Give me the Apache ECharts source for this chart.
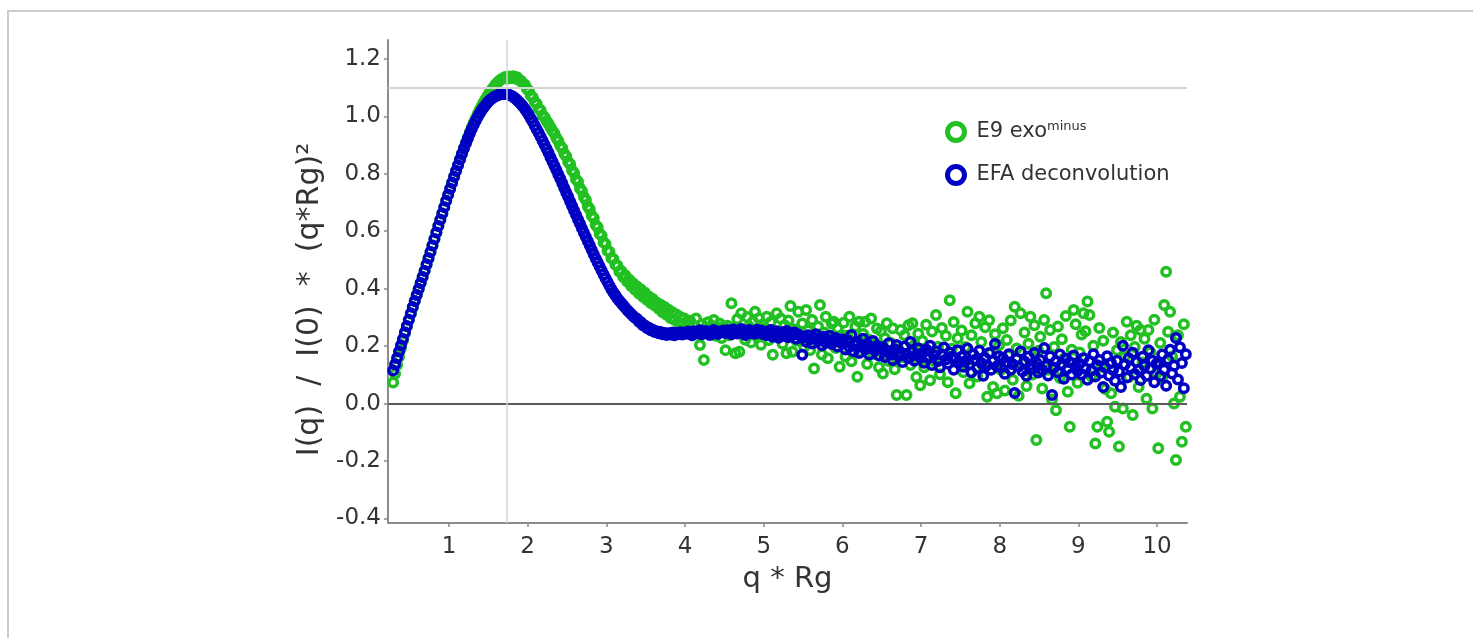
<!DOCTYPE html>
<html><head><meta charset="utf-8">
<script src="https://cdn.jsdelivr.net/npm/echarts@6/dist/echarts.min.js"></script>
<style>html,body{margin:0;padding:0;background:#fff}#chart{width:1473px;height:638px}</style>
</head><body><div id="chart"></div>
<script>
// q*Rg sampling grid (uniform in q)
const qRgStart = 0.29;
const qRgStep = 0.025;

// EFA deconvolution: I(q)/I(0)*(q*Rg)^2
const efaValues = [
0.115,0.137,0.159,0.181,0.203,0.225,0.248,0.270,0.292,0.314,
0.336,0.357,0.378,0.399,0.420,0.441,0.462,0.484,0.506,0.528,
0.550,0.573,0.596,0.618,0.640,0.662,0.684,0.706,0.727,0.748,
0.769,0.790,0.810,0.830,0.850,0.869,0.888,0.906,0.923,0.940,
0.956,0.971,0.985,0.998,1.010,1.021,1.031,1.040,1.048,1.055,
1.061,1.066,1.070,1.073,1.076,1.077,1.078,1.078,1.077,1.075,
1.072,1.068,1.063,1.057,1.050,1.043,1.035,1.026,1.016,1.005,
0.993,0.981,0.968,0.955,0.942,0.929,0.915,0.901,0.887,0.873,
0.858,0.843,0.828,0.813,0.798,0.783,0.767,0.751,0.735,0.720,
0.704,0.688,0.672,0.657,0.641,0.626,0.610,0.595,0.580,0.565,
0.550,0.535,0.520,0.505,0.491,0.477,0.463,0.449,0.436,0.423,
0.410,0.398,0.387,0.377,0.367,0.358,0.350,0.342,0.334,0.326,
0.319,0.312,0.305,0.299,0.295,0.285,0.283,0.273,0.272,0.263,
0.264,0.255,0.257,0.249,0.252,0.245,0.249,0.241,0.246,0.239,
0.245,0.240,0.247,0.238,0.246,0.241,0.248,0.240,0.247,
0.243,0.251,0.246,0.238,0.252,0.249,0.244,0.255,0.241,0.248,0.253,0.245,0.239,0.250,0.256,0.247,0.242,0.251,0.248,0.254,
0.246,0.255,0.249,0.241,0.258,0.252,0.244,0.250,0.260,0.247,0.239,0.253,0.256,0.245,0.251,0.243,0.257,0.248,0.254,0.242,
0.250,0.238,0.247,0.256,0.233,0.244,0.252,0.229,0.241,0.248,0.236,0.253,0.231,0.243,0.239,0.247,0.226,0.240,0.235,0.170,
0.232,0.215,0.238,0.224,0.209,0.229,0.241,0.218,0.226,0.203,0.233,0.212,0.222,0.236,0.207,0.219,0.228,0.199,0.214,0.224,
0.209,0.188,0.221,0.197,0.239,0.182,0.204,0.215,0.176,0.198,0.226,0.189,0.207,0.171,0.194,0.218,0.185,0.200,0.167,0.192,
0.196,0.162,0.183,0.210,0.171,0.152,0.189,0.204,0.165,0.178,0.145,0.199,0.173,0.158,0.214,0.181,0.149,0.168,0.192,0.160,
0.175,0.142,0.188,0.159,0.201,0.134,0.167,0.182,0.148,0.126,0.171,0.195,0.153,0.139,0.178,0.162,0.118,0.157,0.186,0.144,
0.163,0.128,0.148,0.192,0.136,0.109,0.171,0.152,0.124,0.184,0.141,0.097,0.158,0.133,0.176,0.118,0.149,0.207,0.130,0.165,
0.126,0.158,0.104,0.143,0.172,0.118,0.137,0.037,0.155,0.129,0.181,0.112,0.146,0.097,0.163,0.134,0.121,0.176,0.142,0.108,
0.152,0.117,0.193,0.131,0.098,0.164,0.030,0.125,0.147,0.109,0.171,0.138,0.086,0.156,0.122,0.144,0.101,0.167,0.129,0.113,
0.139,0.102,0.158,0.121,0.083,0.147,0.115,0.172,0.094,0.133,0.152,0.108,0.058,0.126,0.165,0.098,0.141,0.117,0.079,0.149,
0.112,0.058,0.201,0.136,0.091,0.158,0.124,0.177,0.103,0.145,0.118,0.082,0.163,0.131,0.097,0.186,0.122,0.149,0.074,0.138,
0.144,0.096,0.171,0.118,0.062,0.153,0.187,0.105,0.132,0.228,0.084,0.196,0.141,0.053,0.172
];

// E9 exo-minus measured curve
const e9Values = [
0.073,0.104,0.134,0.163,0.192,0.219,0.245,0.268,0.291,0.313,
0.335,0.357,0.378,0.399,0.420,0.441,0.462,0.484,0.506,0.528,
0.550,0.573,0.596,0.618,0.640,0.662,0.684,0.706,0.727,0.748,
0.769,0.790,0.811,0.831,0.851,0.871,0.890,0.909,0.927,0.945,
0.962,0.978,0.993,1.008,1.022,1.035,1.048,1.060,1.071,1.082,
1.092,1.101,1.110,1.117,1.124,1.129,1.133,1.137,1.131,1.139,
1.134,1.140,1.132,1.136,1.127,1.124,1.114,1.110,1.096,1.089,
1.073,1.066,1.050,1.044,1.027,1.021,1.004,0.997,0.984,0.974,
0.962,0.950,0.940,0.925,0.914,0.898,0.889,0.871,0.861,0.842,
0.833,0.812,0.803,0.781,0.772,0.750,0.740,0.719,0.709,0.686,
0.677,0.654,0.646,0.622,0.614,0.591,0.584,0.561,0.556,0.532,
0.529,0.506,0.503,0.483,0.481,0.460,0.462,0.441,0.447,0.425,
0.432,0.409,0.419,0.396,0.408,0.383,0.397,0.372,0.386,0.361,
0.373,0.350,0.364,0.341,0.352,0.330,0.344,0.318,0.336,0.309,
0.327,0.298,0.318,0.292,0.310,0.283,0.301,0.277,0.296,
0.279,0.262,0.288,0.254,0.271,0.296,0.249,0.204,0.276,0.152,0.265,0.283,0.243,0.270,0.291,0.236,0.262,0.279,0.228,0.268,
0.186,0.271,0.238,0.349,0.262,0.175,0.294,0.180,0.314,0.247,0.222,0.301,0.268,0.213,0.285,0.320,0.240,0.297,0.205,0.276,
0.262,0.302,0.221,0.284,0.170,0.251,0.314,0.233,0.296,0.208,0.273,0.175,0.289,0.340,0.180,0.258,0.219,0.320,0.244,0.279,
0.197,0.326,0.254,0.186,0.291,0.122,0.233,0.268,0.343,0.171,0.247,0.302,0.158,0.226,0.279,0.285,0.193,0.262,0.128,0.238,
0.281,0.164,0.236,0.302,0.147,0.213,0.268,0.093,0.285,0.181,0.242,0.285,0.138,0.222,0.296,0.172,0.207,0.261,0.126,0.253,
0.105,0.227,0.280,0.148,0.211,0.262,0.119,0.030,0.189,0.256,0.161,0.238,0.030,0.273,0.134,0.280,0.204,0.092,0.243,0.064,
0.219,0.126,0.274,0.183,0.081,0.251,0.147,0.308,0.198,0.102,0.263,0.169,0.236,0.074,0.360,0.191,0.284,0.036,0.227,0.138,
0.254,0.109,0.197,0.320,0.071,0.238,0.152,0.280,0.094,0.302,0.214,0.127,0.266,0.024,0.290,0.176,0.058,0.241,0.036,0.203,
0.118,0.262,0.045,0.221,0.167,0.289,0.083,0.337,0.192,0.027,0.314,0.139,0.247,0.061,0.208,0.302,0.101,0.273,-0.127,0.184,
0.233,0.052,0.291,0.384,0.118,0.256,0.014,0.197,-0.023,0.268,0.089,0.224,0.156,0.305,0.041,-0.081,0.187,0.326,0.276,0.072,
0.178,0.240,0.314,0.252,0.355,0.308,0.094,0.201,-0.139,-0.081,0.263,0.128,0.219,0.051,-0.063,-0.098,0.036,0.247,-0.011,0.186,
-0.150,0.214,-0.017,0.163,0.285,0.092,0.238,-0.040,0.197,0.271,0.058,0.256,0.143,0.226,0.017,0.256,0.179,-0.017,0.292,0.105,
-0.156,0.211,0.087,0.343,0.459,0.250,0.320,0.164,0.000,-0.197,0.238,0.024,-0.133,0.276,-0.081
];

const seriesNames = ['E9 exominus', 'EFA deconvolution'];
const seriesColors = ['#22c022', '#0000c2'];
// Guinier reference point (sqrt(3), 3/e)
const guinierX = 1.732;
const guinierY = 1.104;
const xRange = [0.225, 10.38];
const yRange = [-0.416, 1.266];

const toPoints = vals => vals.map((v, i) => [+(qRgStart + i * qRgStep).toFixed(3), v]);

const FONT = 'DejaVu Sans';
const chart = echarts.init(document.getElementById('chart'), null, {renderer: 'canvas'});
const ringStyle = c => ({color: 'rgba(0,0,0,0)', borderColor: c, borderWidth: 3.5, opacity: 1});

chart.setOption({
  animation: false,
  backgroundColor: '#ffffff',
  graphic: [{
    type: 'rect', silent: true, z: -10,
    shape: {x: 8, y: 11, width: 1500, height: 700},
    style: {fill: 'none', stroke: '#cccccc', lineWidth: 2}
  }],
  grid: {left: 388, right: 286, top: 40, bottom: 115, containLabel: false},
  legend: {
    orient: 'vertical', left: 940, top: 115,
    itemWidth: 17, itemHeight: 17, itemGap: 21,
    data: [
      {name: seriesNames[0], icon: 'circle', itemStyle: {color: 'rgba(0,0,0,0)', borderColor: seriesColors[0], borderWidth: 5}},
      {name: seriesNames[1], icon: 'circle', itemStyle: {color: 'rgba(0,0,0,0)', borderColor: seriesColors[1], borderWidth: 5}}
    ],
    formatter: n => n === seriesNames[0] ? '{t|E9 exo}{s|minus}' : '{t|EFA deconvolution}',
    textStyle: {
      padding: [0, 0, 0, 7],
      rich: {
        t: {fontFamily: FONT, fontSize: 21, color: '#333', lineHeight: 24},
        s: {fontFamily: FONT, fontSize: 13, color: '#333', verticalAlign: 'top', lineHeight: 13}
      }
    }
  },
  xAxis: {
    type: 'value', min: xRange[0], max: xRange[1], splitNumber: 10,
    axisLine: {show: true, onZero: false, lineStyle: {color: '#8c8c8c', width: 2}},
    axisTick: {show: true, length: 4, lineStyle: {color: '#8c8c8c', width: 1.5}},
    splitLine: {show: false},
    axisLabel: {showMinLabel: false, showMaxLabel: false, fontFamily: FONT, fontSize: 23, color: '#333', margin: 13},
    name: 'q * Rg', nameLocation: 'middle', nameGap: 42,
    nameTextStyle: {fontFamily: FONT, fontSize: 29, color: '#333'}
  },
  yAxis: {
    type: 'value', min: yRange[0], max: yRange[1], splitNumber: 8,
    axisLine: {show: true, onZero: false, lineStyle: {color: '#8c8c8c', width: 2}},
    axisTick: {show: true, length: 4, lineStyle: {color: '#8c8c8c', width: 1.5}},
    splitLine: {show: false},
    axisLabel: {showMinLabel: false, showMaxLabel: false, fontFamily: FONT, fontSize: 23, color: '#333', margin: 7,
      formatter: v => v.toFixed(1)},
    name: 'I(q)  /  I(0)  *  (q*Rg)²', nameLocation: 'middle', nameGap: 55,
    nameTextStyle: {fontFamily: FONT, fontSize: 30, color: '#333', padding: [0, 36, 0, 0]}
  },
  series: [
    {
      type: 'scatter', name: '_refs', data: [], silent: true, z: 1,
      markLine: {
        silent: true, symbol: 'none', animation: false, label: {show: false},
        data: [
          {yAxis: 0, lineStyle: {color: '#5a5a5a', width: 2, type: 'solid'}},
          {yAxis: guinierY, lineStyle: {color: '#d4d4d4', width: 2, type: 'solid'}},
          {xAxis: guinierX, lineStyle: {color: '#d4d4d4', width: 1.5, type: 'solid'}}
        ]
      }
    },
    {
      type: 'scatter', name: seriesNames[0], data: toPoints(e9Values), z: 2,
      symbol: 'circle', symbolSize: 8.5, itemStyle: ringStyle(seriesColors[0])
    },
    {
      type: 'scatter', name: seriesNames[1], data: toPoints(efaValues), z: 3,
      symbol: 'circle', symbolSize: 8.5, itemStyle: ringStyle(seriesColors[1])
    }
  ]
});
</script>
</body></html>
